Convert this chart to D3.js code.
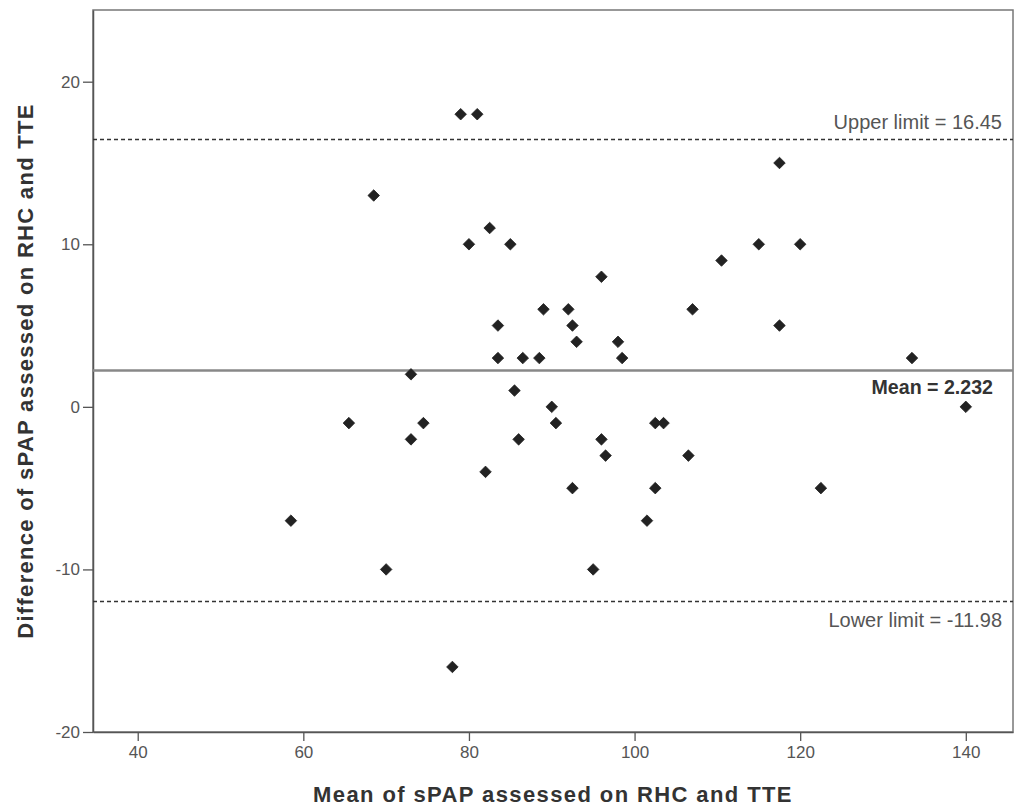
<!DOCTYPE html>
<html>
<head>
<meta charset="utf-8">
<script src="https://cdn.jsdelivr.net/npm/d3@7"></script>
<style>
  html, body { margin: 0; padding: 0; background: #fff; }
  svg { display: block; font-family: "Liberation Sans", Arial, sans-serif; }
</style>
</head>
<body>
<svg id="chart" width="1021" height="807"></svg>
<script>
// Mean of sPAP (RHC & TTE) on x, difference on y
const meanValues = [58.5, 65.5, 68.5, 70.0, 73.0, 73.0, 74.5, 78.0, 79.0, 80.0,
  81.0, 82.0, 82.5, 83.5, 83.5, 85.0, 85.5, 86.0, 86.5, 88.5,
  89.0, 90.0, 90.5, 92.0, 92.5, 92.5, 93.0, 95.0, 96.0, 96.0,
  96.5, 98.0, 98.5, 101.5, 102.5, 102.5, 103.5, 106.5, 107.0, 110.5,
  115.0, 117.5, 117.5, 120.0, 122.5, 133.5, 140.0];
const diffValues = [-7, -1, 13, -10, 2, -2, -1, -16, 18, 10,
  18, -4, 11, 5, 3, 10, 1, -2, 3, 3,
  6, 0, -1, 6, -5, 5, 4, -10, 8, -2,
  -3, 4, 3, -7, -1, -5, -1, -3, 6, 9,
  10, 15, 5, 10, -5, 3, 0];
const xTicks = [40, 60, 80, 100, 120, 140];
const yTicks = [-20, -10, 0, 10, 20];
const meanDiff = 2.232;
const upperLimit = 16.45;
const lowerLimit = -11.98;
const refLabels = ["Upper limit = 16.45", "Mean = 2.232", "Lower limit = -11.98"];

const L = 93, R = 1013, T = 10, B = 732;
const svg = d3.select("#chart");
const x = d3.scaleLinear().domain([34.6, 145.7]).range([L, R]);
const y = d3.scaleLinear().domain([-20, 24.41]).range([B, T]);

// frame
svg.append("rect").attr("x", L).attr("y", T).attr("width", R - L).attr("height", B - T)
  .attr("fill", "none").attr("stroke", "#777").attr("stroke-width", 1.5);

// axes
const fmt = d => String(d);
const xAxis = svg.append("g").attr("transform", `translate(0,${B})`)
  .call(d3.axisBottom(x).tickValues(xTicks).tickFormat(fmt).tickSizeInner(9).tickSizeOuter(0).tickPadding(5));
const yAxis = svg.append("g").attr("transform", `translate(${L},0)`)
  .call(d3.axisLeft(y).tickValues(yTicks).tickFormat(fmt).tickSizeInner(10).tickSizeOuter(0).tickPadding(3));
[xAxis, yAxis].forEach(g => {
  g.select(".domain").attr("stroke", "#555").attr("stroke-width", 1.5);
  g.selectAll(".tick line").attr("stroke", "#555").attr("stroke-width", 1.3);
  g.selectAll(".tick text").attr("fill", "#555").attr("font-size", 17)
    .attr("font-family", "'Liberation Sans', Arial, sans-serif");
});

// reference lines
[upperLimit, lowerLimit].forEach(v => {
  svg.append("line").attr("x1", L).attr("x2", R).attr("y1", y(v)).attr("y2", y(v))
    .attr("stroke", "#333").attr("stroke-width", 1.5).attr("stroke-dasharray", "4,3");
});
svg.append("line").attr("x1", L).attr("x2", R).attr("y1", y(meanDiff)).attr("y2", y(meanDiff))
  .attr("stroke", "#888").attr("stroke-width", 2.5);

svg.append("text").attr("x", 1002).attr("y", y(upperLimit) - 10)
  .attr("text-anchor", "end").attr("font-size", 20).attr("fill", "#555")
  .text(refLabels[0]);
svg.append("text").attr("x", 993).attr("y", y(meanDiff) + 23)
  .attr("text-anchor", "end").attr("font-size", 19.6).attr("font-weight", "bold").attr("fill", "#333")
  .text(refLabels[1]);
svg.append("text").attr("x", 1002).attr("y", y(lowerLimit) + 25)
  .attr("text-anchor", "end").attr("font-size", 20).attr("fill", "#555")
  .text(refLabels[2]);

// points
const pts = meanValues.map((m, i) => ({ m, d: diffValues[i] }));
svg.append("g").selectAll("path").data(pts).join("path")
  .attr("d", d3.symbol().type(d3.symbolDiamond2).size(85))
  .attr("transform", d => `translate(${x(d.m)},${y(d.d)})`)
  .attr("fill", "#222").attr("stroke", "#222").attr("stroke-width", 0.8);

// axis titles
svg.append("text").attr("x", 553).attr("y", 802)
  .attr("text-anchor", "middle").attr("font-size", 22).attr("font-weight", "bold")
  .attr("letter-spacing", 1.4).attr("fill", "#333")
  .text("Mean of sPAP assessed on RHC and TTE");
svg.append("text").attr("transform", `translate(33,371) rotate(-90)`)
  .attr("text-anchor", "middle").attr("font-size", 22).attr("font-weight", "bold")
  .attr("letter-spacing", 1.3).attr("fill", "#333")
  .text("Difference of sPAP assessed on RHC and TTE");
</script>
</body>
</html>
